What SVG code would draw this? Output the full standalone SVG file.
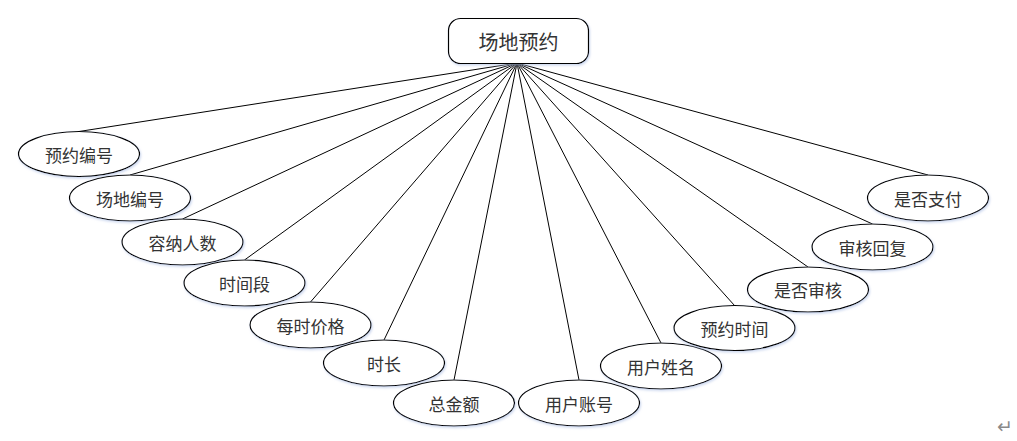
<svg xmlns="http://www.w3.org/2000/svg" width="1017" height="441" viewBox="0 0 1017 441">
<style>
.n{fill:#ffffff;stroke:#000000;stroke-width:1.2;filter:url(#sh)}
.t{font-family:"Noto Sans CJK SC","Microsoft YaHei",sans-serif;font-size:17px;fill:#333333;text-anchor:middle;dominant-baseline:central}
.r{font-size:20px}
.c line{stroke:#000000;stroke-width:1}
</style>
<defs>
<filter id="sh" x="-10%" y="-20%" width="120%" height="140%">
<feDropShadow dx="1" dy="1.5" stdDeviation="1.2" flood-color="#b8c8e8" flood-opacity="0.7"/>
</filter>
</defs>
<rect width="1017" height="441" fill="#ffffff"/>
<g class="c" id="connectors">
<line x1="517" y1="63" x2="79" y2="131.5"/>
<line x1="517" y1="63" x2="130" y2="175"/>
<line x1="517" y1="63" x2="182.5" y2="219"/>
<line x1="517" y1="63" x2="244.5" y2="260"/>
<line x1="517" y1="63" x2="310.5" y2="302"/>
<line x1="517" y1="63" x2="384" y2="340"/>
<line x1="517" y1="63" x2="454" y2="380"/>
<line x1="517" y1="63" x2="579" y2="380"/>
<line x1="517" y1="63" x2="661" y2="343"/>
<line x1="517" y1="63" x2="734.5" y2="305.5"/>
<line x1="517" y1="63" x2="808" y2="267"/>
<line x1="517" y1="63" x2="872.5" y2="224"/>
<line x1="517" y1="63" x2="928" y2="175"/>
</g>
<g id="root"><rect class="n" x="448.5" y="18.5" width="140" height="45" rx="12"/><text class="t r" x="518.5" y="41">场地预约</text></g>
<g id="n1"><ellipse class="n" cx="79" cy="154" rx="60.5" ry="22.5"/><text class="t" x="79" y="154">预约编号</text></g>
<g id="n2"><ellipse class="n" cx="130" cy="198" rx="60.5" ry="23"/><text class="t" x="130" y="198">场地编号</text></g>
<g id="n3"><ellipse class="n" cx="182.5" cy="242" rx="60.5" ry="23"/><text class="t" x="182.5" y="242">容纳人数</text></g>
<g id="n4"><ellipse class="n" cx="244.5" cy="283" rx="60.5" ry="23"/><text class="t" x="244.5" y="283">时间段</text></g>
<g id="n5"><ellipse class="n" cx="310.5" cy="325" rx="60.5" ry="23"/><text class="t" x="310.5" y="325">每时价格</text></g>
<g id="n6"><ellipse class="n" cx="384" cy="363" rx="60.5" ry="23"/><text class="t" x="384" y="363">时长</text></g>
<g id="n7"><ellipse class="n" cx="454" cy="403" rx="60.5" ry="23"/><text class="t" x="454" y="403">总金额</text></g>
<g id="n8"><ellipse class="n" cx="579" cy="403" rx="60.5" ry="23"/><text class="t" x="579" y="403">用户账号</text></g>
<g id="n9"><ellipse class="n" cx="661" cy="366" rx="60.5" ry="23"/><text class="t" x="661" y="366">用户姓名</text></g>
<g id="n10"><ellipse class="n" cx="734.5" cy="328" rx="60.5" ry="22.5"/><text class="t" x="734.5" y="328">预约时间</text></g>
<g id="n11"><ellipse class="n" cx="808" cy="289.5" rx="60.5" ry="22.5"/><text class="t" x="808" y="289.5">是否审核</text></g>
<g id="n12"><ellipse class="n" cx="872.5" cy="247" rx="60.5" ry="23"/><text class="t" x="872.5" y="247">审核回复</text></g>
<g id="n13"><ellipse class="n" cx="928" cy="198" rx="60.5" ry="23"/><text class="t" x="928" y="198">是否支付</text></g>
<text x="1005" y="426" font-family="DejaVu Sans,sans-serif" font-size="19" fill="#8a8a8a" text-anchor="middle" dominant-baseline="central">↵</text>
</svg>
